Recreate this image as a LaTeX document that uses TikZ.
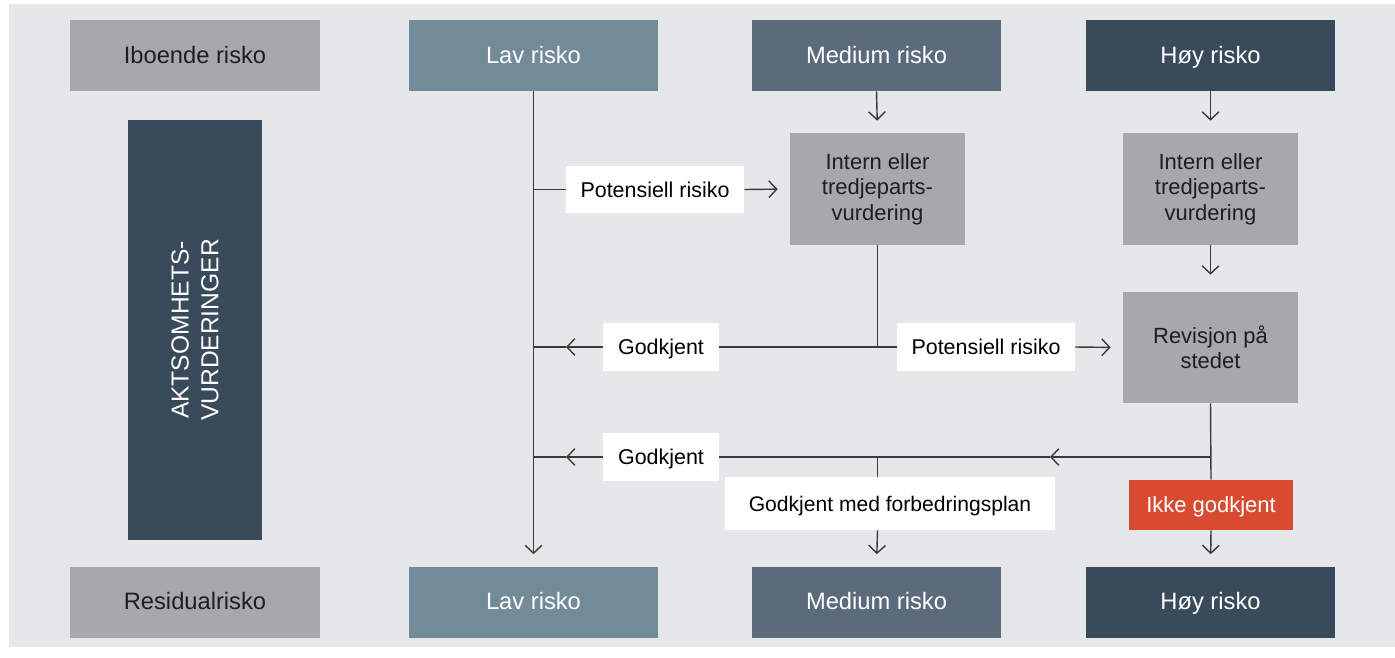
\documentclass[tikz,border=0pt]{standalone}
\usepackage{fontspec}
\setmainfont{Liberation Sans}
\usetikzlibrary{arrows.meta,calc}
\definecolor{bgc}{HTML}{E6E7E9}
\definecolor{grayc}{HTML}{A7A8AC}
\definecolor{lavc}{HTML}{738B98}
\definecolor{medc}{HTML}{5B6B7C}
\definecolor{hoyc}{HTML}{394A5B}
\definecolor{redc}{HTML}{D84B30}
\definecolor{linec}{HTML}{3A3A3A}
\definecolor{txtc}{HTML}{1E1E1E}
\tikzset{
  box/.style={draw=none, inner sep=0pt, align=center, font=\fontsize{13.5}{16}\selectfont},
  one/.style={text height=0.9em, text depth=0em},
  graybox/.style={box, fill=grayc, text=txtc},
  lavbox/.style={box, fill=lavc, text=white},
  medbox/.style={box, fill=medc, text=white},
  hoybox/.style={box, fill=hoyc, text=white},
  riskbox/.style={one, minimum width=4.98cm, minimum height=1.42cm},
  procbox/.style={graybox, minimum width=3.5cm, minimum height=2.24cm, font=\fontsize{12.5}{14.5}\selectfont},
  lbl/.style={one, fill=white, inner sep=0pt, text=black, font=\fontsize{12.2}{14}\selectfont},
  conn/.style={draw=linec, line width=0.8pt},
  arr/.style={conn, -{Straight Barb[length=4.5pt,width=9.5pt,line width=0.8pt]}},
  sarr/.style={arr, shorten >=0.24cm},
}
\begin{document}
\begin{tikzpicture}[x=0.02cm,y=-0.02cm]
\useasboundingbox (0,0) rectangle (1395,657);
\fill[bgc] (9,4) rectangle (1395,647);

% top row
\node[graybox, riskbox, minimum width=5cm] (ib) at (195,55.5) {Iboende risko};
\node[lavbox, riskbox] (lavT) at (533.5,55.5) {Lav risko};
\node[medbox, riskbox] (medT) at (876.5,55.5) {Medium risko};
\node[hoybox, riskbox] (hoyT) at (1210.5,55.5) {Høy risko};

% bottom row
\node[graybox, riskbox, minimum width=5cm] (res) at (195,602) {Residualrisko};
\node[lavbox, riskbox] (lavB) at (533.5,602) {Lav risko};
\node[medbox, riskbox] (medB) at (876.5,602) {Medium risko};
\node[hoybox, riskbox] (hoyB) at (1210.5,602) {Høy risko};

% side box
\node[hoybox, minimum width=2.68cm, minimum height=8.4cm] (ak) at (195,330) {};
\node[text=white, rotate=90, align=center, font=\fontsize{14}{17}\selectfont] (akt) at (ak.center) {AKTSOMHETS-\\VURDERINGER};

% process boxes
\node[procbox] (intM) at (877.5,189) {Intern eller\\tredjeparts-\\vurdering};
\node[procbox] (intH) at (1210.5,189) {Intern eller\\tredjeparts-\\vurdering};
\node[procbox, minimum height=2.22cm] (rev) at (1210.5,347.5) {Revisjon på\\stedet};

% labels
\node[lbl, minimum width=3.56cm, minimum height=0.94cm] (pot1) at (655,189.5) {Potensiell risiko};
\node[lbl, minimum width=2.32cm, minimum height=0.96cm] (god1) at (661,347) {Godkjent};
\node[lbl, minimum width=3.56cm, minimum height=0.96cm] (pot2) at (986,347) {Potensiell risiko};
\node[lbl, minimum width=2.32cm, minimum height=0.96cm] (god2) at (661,457) {Godkjent};
\node[lbl, minimum width=6.6cm, minimum height=1.06cm, font=\fontsize{12}{14}\selectfont] (gmf) at (890,503.5) {Godkjent med forbedringsplan};
\node[box, one, fill=redc, text=white, minimum width=3.28cm, minimum height=1.0cm, font=\fontsize{12.5}{14}\selectfont] (ikke) at (1211,505) {Ikke godkjent};

\coordinate (g1tip) at (566,347);
\coordinate (g2tip) at (566,457);
\coordinate (g2mid) at (1050,457);

% Lav column
\draw[sarr] (lavT.south) -- (lavB.north);
\draw[conn] (lavT.south |- pot1) -- (pot1.west);
\draw[sarr] (pot1.east) -- (intM.west);

% Medium column
\draw[sarr] (medT.south) -- (intM.north);
\draw[conn] (intM.south) -- (intM.south |- god1);
\draw[conn] (god1.east) -- (pot2.west);
\draw[sarr] (pot2.east) -- (rev.west);
\draw[arr] (god1.west) -- (g1tip);
\draw[conn] (g1tip) -- (lavT.south |- god1);

% Høy column
\draw[sarr] (hoyT.south) -- (intH.north);
\draw[arr, shorten >=0.34cm] (intH.south) -- (rev.north);
\draw[conn] (rev.south) -- (ikke.north);
\draw[sarr] (ikke.south) -- (hoyB.north);
\draw[arr] (rev.south |- god2) -- (g2mid);
\draw[conn] (g2mid) -- (god2.east);
\draw[arr] (god2.west) -- (g2tip);
\draw[conn] (g2tip) -- (lavT.south |- god2);
\draw[conn] (intM.south |- god2) -- (intM.south |- gmf.north);
\draw[sarr] (intM.south |- gmf.south) -- (medB.north);
\end{tikzpicture}
\end{document}
